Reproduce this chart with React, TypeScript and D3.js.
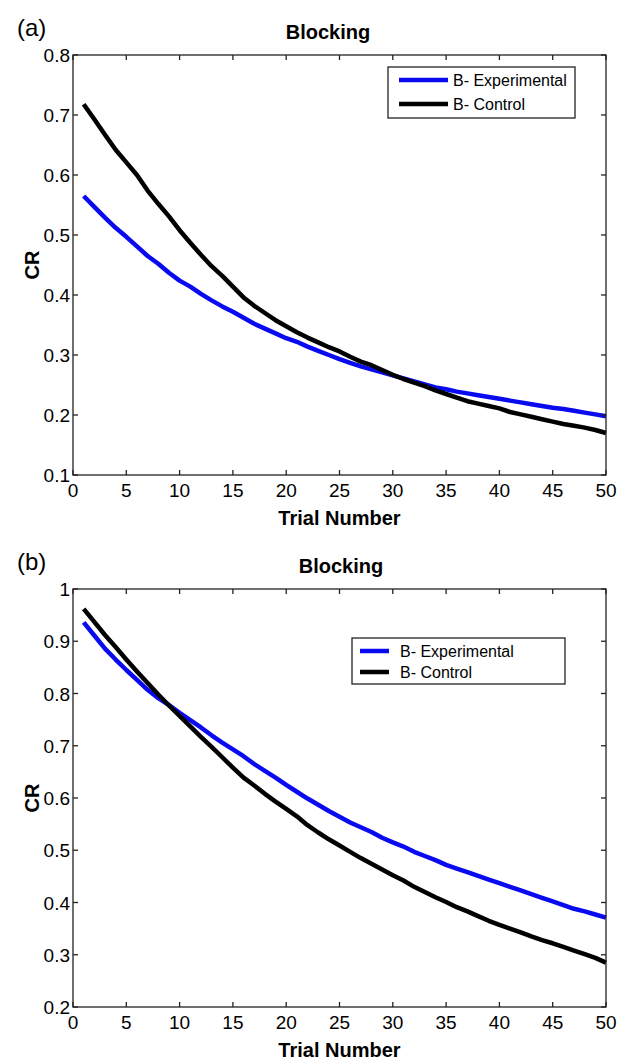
import React from "react";
import * as d3 from "d3";

const trials = d3.range(1, 51);
const xTicks = [0, 5, 10, 15, 20, 25, 30, 35, 40, 45, 50];
const yTicksA = [0.1, 0.2, 0.3, 0.4, 0.5, 0.6, 0.7, 0.8];
const yTicksB = [0.2, 0.3, 0.4, 0.5, 0.6, 0.7, 0.8, 0.9, 1];
const seriesNames = ["B- Experimental", "B- Control"];
const seriesColors = ["#0a0af0", "#000000"];

const expA = [0.565, 0.547, 0.529, 0.512, 0.497, 0.481, 0.465, 0.452, 0.437, 0.424,
  0.414, 0.402, 0.391, 0.381, 0.372, 0.362, 0.352, 0.344, 0.336, 0.328,
  0.322, 0.314, 0.307, 0.3, 0.293, 0.287, 0.281, 0.276, 0.271, 0.266,
  0.261, 0.256, 0.251, 0.246, 0.243, 0.239, 0.236, 0.233, 0.23, 0.227,
  0.224, 0.221, 0.218, 0.215, 0.212, 0.21, 0.207, 0.204, 0.201, 0.198];
const ctrlA = [0.718, 0.693, 0.667, 0.642, 0.621, 0.6, 0.574, 0.552, 0.531, 0.508,
  0.487, 0.467, 0.448, 0.432, 0.414, 0.396, 0.382, 0.37, 0.358, 0.348,
  0.338, 0.329, 0.321, 0.313, 0.306, 0.297, 0.289, 0.283, 0.275, 0.267,
  0.26, 0.254, 0.248, 0.241, 0.235, 0.229, 0.223, 0.219, 0.215, 0.211,
  0.205, 0.201, 0.197, 0.193, 0.189, 0.185, 0.182, 0.179, 0.175, 0.17];
const expB = [0.936, 0.911, 0.886, 0.865, 0.845, 0.826, 0.807, 0.791, 0.778, 0.763,
  0.749, 0.735, 0.72, 0.706, 0.693, 0.68, 0.665, 0.652, 0.639, 0.625,
  0.612, 0.599, 0.587, 0.575, 0.564, 0.553, 0.544, 0.535, 0.524, 0.515,
  0.507, 0.497, 0.489, 0.481, 0.472, 0.465, 0.458, 0.451, 0.444, 0.437,
  0.43, 0.423, 0.416, 0.409, 0.402, 0.395, 0.388, 0.383, 0.377, 0.371];
const ctrlB = [0.962, 0.937, 0.912, 0.889, 0.865, 0.842, 0.82, 0.798, 0.777, 0.757,
  0.737, 0.717, 0.698, 0.678, 0.658, 0.639, 0.624, 0.608, 0.593, 0.579,
  0.565, 0.548, 0.534, 0.521, 0.509, 0.497, 0.485, 0.474, 0.463, 0.452,
  0.442, 0.43, 0.42, 0.41, 0.401, 0.391, 0.383, 0.374, 0.365, 0.357,
  0.35, 0.343, 0.335, 0.328, 0.322, 0.315, 0.308, 0.301, 0.294, 0.285];

const FONT = "'Liberation Sans', Arial, Helvetica, sans-serif";

type PanelProps = {
  label: string;
  top: number;
  bottom: number;
  titleX: number;
  yDomain: [number, number];
  yTicks: number[];
  series: number[][];
  legend: { x: number; y: number; w: number; h: number; lineX1: number; lineX2: number; textX: number; rows: number[] };
};

function Panel({ label, top, bottom, titleX, yDomain, yTicks, series, legend }: PanelProps) {
  const left = 73;
  const right = 606;
  const x = d3.scaleLinear().domain([0, 50]).range([left, right]);
  const y = d3.scaleLinear().domain(yDomain).range([bottom, top]);
  const line = d3.line<number>().x((_, i) => x(trials[i])).y((d) => y(d));
  const tl = 5;
  const fmt = (v: number) => (v === 1 ? "1" : d3.format(".1f")(v));
  return (
    <g>
      <text x={17} y={top - 19} fontSize={24} fontFamily={FONT}>{label}</text>
      <text x={titleX} y={top - 16} fontSize={20} fontWeight="bold" textAnchor="middle" fontFamily={FONT}>Blocking</text>
      {series.map((s, i) => (
        <path key={i} d={line(s) || ""} fill="none" stroke={seriesColors[i]} strokeWidth={4.5} strokeLinejoin="round" />
      ))}
      <rect x={left} y={top} width={right - left} height={bottom - top} fill="none" stroke="#222" strokeWidth={1.3} />
      {xTicks.map((t) => (
        <g key={"x" + t}>
          <line x1={x(t)} x2={x(t)} y1={bottom} y2={bottom - tl} stroke="#222" strokeWidth={1.3} />
          <line x1={x(t)} x2={x(t)} y1={top} y2={top + tl} stroke="#222" strokeWidth={1.3} />
          <text x={x(t)} y={bottom + 22} fontSize={19} textAnchor="middle" fontFamily={FONT}>{t}</text>
        </g>
      ))}
      {yTicks.map((t) => (
        <g key={"y" + t}>
          <line x1={left} x2={left + tl} y1={y(t)} y2={y(t)} stroke="#222" strokeWidth={1.3} />
          <line x1={right} x2={right - tl} y1={y(t)} y2={y(t)} stroke="#222" strokeWidth={1.3} />
          <text x={left - 3} y={y(t) + 7} fontSize={19} textAnchor="end" fontFamily={FONT}>{fmt(t)}</text>
        </g>
      ))}
      <text x={(left + right) / 2} y={bottom + 50} fontSize={20} fontWeight="bold" textAnchor="middle" fontFamily={FONT}>Trial Number</text>
      <text transform={`translate(${39},${(top + bottom) / 2}) rotate(-90)`} fontSize={20} fontWeight="bold" textAnchor="middle" fontFamily={FONT}>CR</text>
      <rect x={legend.x} y={legend.y} width={legend.w} height={legend.h} fill="#fff" stroke="#222" strokeWidth={1.3} />
      {seriesNames.map((n, i) => (
        <g key={n}>
          <line x1={legend.lineX1} x2={legend.lineX2} y1={legend.rows[i]} y2={legend.rows[i]} stroke={seriesColors[i]} strokeWidth={4.5} />
          <text x={legend.textX} y={legend.rows[i] + 6} fontSize={16} fontFamily={FONT}>{n}</text>
        </g>
      ))}
    </g>
  );
}

export default function App() {
  return (
    <svg width={627} height={1062} style={{ position: "absolute", left: 0, top: 0, background: "#fff" }}>
      <Panel label="(a)" top={55} bottom={475} titleX={328} yDomain={[0.1, 0.8]} yTicks={yTicksA} series={[expA, ctrlA]}
        legend={{ x: 388, y: 67, w: 187, h: 51, lineX1: 399, lineX2: 448, textX: 453, rows: [80, 104] }} />
      <Panel label="(b)" top={589} bottom={1007} titleX={341} yDomain={[0.2, 1]} yTicks={yTicksB} series={[expB, ctrlB]}
        legend={{ x: 352, y: 638, w: 213, h: 46, lineX1: 360, lineX2: 389, textX: 400, rows: [651, 672] }} />
    </svg>
  );
}
